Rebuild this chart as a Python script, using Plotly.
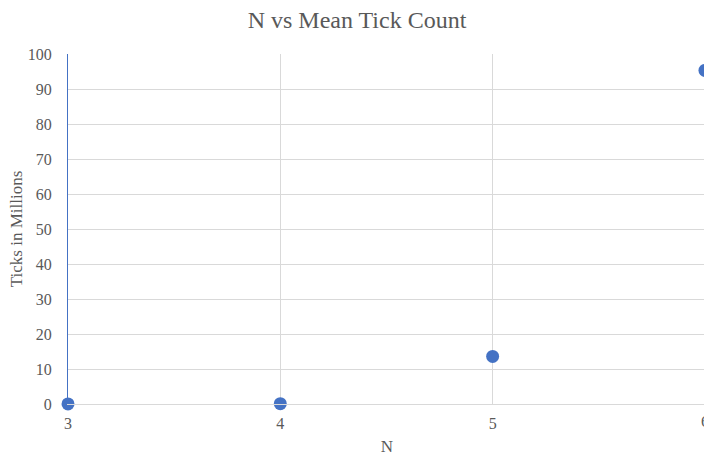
import plotly.graph_objects as go

# Mean tick count (in millions) for each N
n_values = [3, 4, 5, 6]
ticks_millions = [0.02, 0.1, 13.6, 95.3]

x_tick_vals = [3, 4, 5, 6]
y_tick_vals = [0, 10, 20, 30, 40, 50, 60, 70, 80, 90, 100]

serif = "Liberation Serif, Times New Roman, serif"
text_gray = "#595959"
grid_gray = "#d9d9d9"
blue = "#4472C4"
tick_size = 16
axis_title_size = 17

# The figure is slightly wider than the window so the last column runs off the edge
fig_width = 706

fig = go.Figure(
    go.Scatter(
        x=n_values,
        y=ticks_millions,
        mode="markers",
        marker=dict(size=13, color=blue),
        cliponaxis=False,
        showlegend=False,
    )
)

fig.update_layout(
    width=fig_width,
    height=456,
    margin=dict(l=68, r=0, t=54, b=52),
    paper_bgcolor="white",
    plot_bgcolor="white",
    font=dict(family=serif, color=text_gray, size=tick_size),
    title=dict(
        text="N vs Mean Tick Count",
        x=357 / fig_width,
        xanchor="center",
        y=1 - 20 / 456,
        yanchor="middle",
        font=dict(family=serif, size=24, color=text_gray),
    ),
)

fig.update_xaxes(
    range=[3, 6.005],
    tickvals=x_tick_vals[:-1],
    ticktext=[str(v) for v in x_tick_vals[:-1]],
    tickfont=dict(size=tick_size),
    showgrid=True,
    gridcolor=grid_gray,
    gridwidth=1,
    zeroline=False,
    showline=True,
    linecolor=grid_gray,
    linewidth=1,
    ticks="",
    ticklabelstandoff=5,
    title=dict(text="N", font=dict(family=serif, size=axis_title_size, color=text_gray), standoff=8),
)

# The last category label sits on the right edge of the plot area
fig.add_annotation(
    x=x_tick_vals[-1],
    xref="x",
    y=0,
    yref="y",
    yshift=-17,
    text=str(x_tick_vals[-1]),
    showarrow=False,
    xanchor="center",
    yanchor="middle",
    font=dict(family=serif, size=tick_size, color=text_gray),
)

fig.update_yaxes(
    range=[0, 100],
    tickvals=y_tick_vals,
    tickfont=dict(size=tick_size),
    showgrid=True,
    gridcolor=grid_gray,
    gridwidth=1,
    zeroline=False,
    showline=True,
    linecolor=blue,
    linewidth=1.2,
    ticks="",
    ticklabelstandoff=12,
    title=dict(text="Ticks in Millions", font=dict(family=serif, size=axis_title_size, color=text_gray), standoff=0),
)

fig.write_html(
    "out.html",
    post_script="document.body.style.overflow='hidden';document.body.style.margin='0';",
)
